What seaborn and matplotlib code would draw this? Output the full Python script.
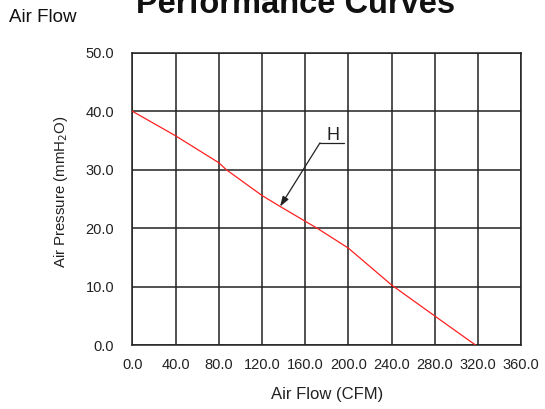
import matplotlib
matplotlib.use("Agg")
import matplotlib.pyplot as plt
import seaborn as sns
import pandas as pd

airflow = [0, 40, 80, 87, 120, 137, 160, 172, 200, 240, 280, 318]
pressure = [40.0, 35.8, 31.2, 30.0, 25.6, 23.7, 21.2, 19.9, 16.6, 10.3, 5.0, 0.0]
x_ticks = [0, 40, 80, 120, 160, 200, 240, 280, 320, 360]
y_ticks = [0, 10, 20, 30, 40, 50]
curve_label = "H"

sns.set_theme(style="white")
plt.rcParams['font.family'] = ['Liberation Sans', 'DejaVu Sans']

fig = plt.figure(figsize=(5.45, 4.09), dpi=100)
ax = fig.add_axes([0.2428, 0.1557, 0.9565 - 0.2428, 0.8712 - 0.1557])

df = pd.DataFrame({"Air Flow": airflow, "Pressure": pressure})
sns.lineplot(data=df, x="Air Flow", y="Pressure", ax=ax, color="#ff2020", linewidth=0.9, zorder=3)

ax.set_xlim(0, 360)
ax.set_ylim(0, 50)
ax.set_xticks(x_ticks)
ax.set_yticks(y_ticks)
ax.set_xticklabels([f"{v:.1f}" for v in x_ticks], fontsize=10.5, color="#222222")
ax.set_yticklabels([f"{v:.1f}" for v in y_ticks], fontsize=10.5, color="#222222")
ax.tick_params(axis="both", length=0)
ax.tick_params(axis="x", pad=9)
ax.tick_params(axis="y", pad=13)
ax.grid(True, color="#222222", linewidth=1.1)
for s in ax.spines.values():
    s.set_color("#222222")
    s.set_linewidth(1.1)
    s.set_visible(True)

ax.set_xlabel("Air Flow (CFM)", fontsize=12, color="#222222", labelpad=11)
ax.set_ylabel("Air Pressure (mmH$_2$O)", fontsize=10.8, color="#222222")
ax.yaxis.set_label_coords(-0.16, 0.524)

# annotation leader
ax.plot([173.7, 195.8], [34.6, 34.6], color="#222222", linewidth=0.9, zorder=4)
ax.annotate("", xy=(136.7, 23.7), xytext=(173.7, 34.6),
            arrowprops=dict(arrowstyle="-|>,head_length=0.6,head_width=0.2", color="#222222", lw=0.9,
                            mutation_scale=10, shrinkA=0, shrinkB=0), zorder=4)
ax.text(186, 35.1, curve_label, fontsize=13, ha="center", va="baseline", color="#222222")

fig.text(0.543, 1 - 13 / 409, "Performance Curves", fontsize=23.5, fontweight="bold",
         ha="center", va="baseline", color="#111111")
fig.text(0.017, 0.956, "Air Flow", fontsize=13.5, ha="left", va="center", color="#111111")

fig.savefig("out.png", dpi=100)
